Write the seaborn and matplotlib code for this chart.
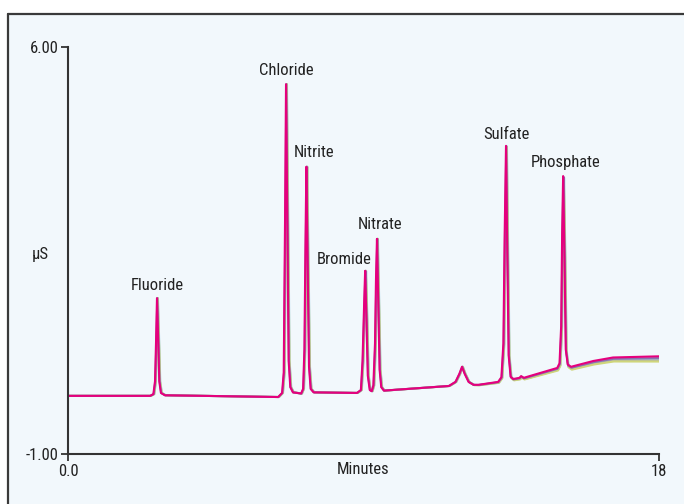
import numpy as np
import pandas as pd
import matplotlib
matplotlib.use("Agg")
import matplotlib.pyplot as plt
from matplotlib import font_manager
from matplotlib.lines import Line2D
from matplotlib.patches import Rectangle
import seaborn as sns

# ---- data ----
time_min = [0.0, 2.50, 2.60, 2.65, 2.68, 2.71, 2.75, 2.78, 2.83, 2.95,
            6.40, 6.52, 6.57, 6.61, 6.64, 6.68, 6.72, 6.77, 6.85,
            7.10, 7.16, 7.20, 7.23, 7.26, 7.30, 7.34, 7.39, 7.48,
            8.80, 8.92, 8.97, 9.02, 9.05, 9.09, 9.13, 9.19,
            9.25, 9.30, 9.35, 9.38, 9.41, 9.45, 9.49, 9.54, 9.62,
            11.60, 11.80, 11.92, 12.00, 12.08, 12.20, 12.35, 12.50,
            13.10, 13.20, 13.26, 13.30, 13.34, 13.38, 13.42, 13.48, 13.56,
            13.75, 13.80, 13.88,
            14.90, 14.97, 15.02, 15.05, 15.08, 15.12, 15.16, 15.22, 15.32,
            16.00, 16.60, 18.00]
signal_uS = [0.00, 0.00, 0.03, 0.25, 0.90, 1.68, 0.90, 0.25, 0.05, 0.01,
             -0.02, 0.05, 0.40, 3.00, 5.36, 3.00, 0.60, 0.15, 0.06,
             0.04, 0.12, 0.80, 2.50, 3.94, 2.20, 0.50, 0.12, 0.06,
             0.05, 0.10, 0.60, 1.60, 2.15, 1.30, 0.35, 0.10,
             0.08, 0.18, 0.90, 2.00, 2.70, 1.60, 0.45, 0.15, 0.09,
             0.17, 0.24, 0.38, 0.50, 0.38, 0.24, 0.19, 0.19,
             0.24, 0.32, 0.90, 2.80, 4.30, 2.40, 0.70, 0.33, 0.29,
             0.31, 0.34, 0.31,
             0.48, 0.56, 1.20, 2.80, 3.78, 2.40, 0.80, 0.54, 0.50,
             0.60, 0.66, 0.68]

# overlaid replicate runs: name, colour, retention shift (min), end-of-run offset (uS)
run_names = ["run 1", "run 2", "run 3", "run 4", "run 5"]
run_colors = ["#9fd0ea", "#b0b0a8", "#cfd67a", "#8a72b0", "#e5007d"]
run_shift = [0.03, 0.02, 0.025, 0.01, 0.0]
run_end_offset = [-0.05, -0.07, -0.09, -0.03, 0.0]

peak_names = ["Fluoride", "Chloride", "Nitrite", "Bromide", "Nitrate", "Sulfate", "Phosphate"]
label_x = [2.71, 6.66, 7.49, 8.41, 9.50, 13.34, 15.17]
label_y = [1.90, 5.60, 4.18, 2.34, 2.94, 4.50, 4.02]

x_ticks = [0.0, 18.0]
x_tick_labels = ["0.0", "18"]
y_ticks = [-1.0, 6.0]
y_tick_labels = ["-1.00", "6.00"]

# ---- build long table ----
rows = []
t_arr = np.array(time_min)
s_arr = np.array(signal_uS)
for name, sh, off in zip(run_names, run_shift, run_end_offset):
    drift = np.clip((t_arr - 12.0) / 6.0, 0, 1) * off
    for t, s, d in zip(t_arr + sh, s_arr, drift):
        rows.append({"run": name, "time": t, "uS": s + d})
df = pd.DataFrame(rows)

# ---- fonts ----
available = {f.name for f in font_manager.fontManager.ttflist}
family = "DejaVu Sans"
for cand in ["Liberation Sans Narrow", "Roboto Condensed", "Open Sans Condensed", "Liberation Sans"]:
    if cand in available:
        family = cand
        break

sns.set_theme(style="white")
plt.rcParams["font.family"] = [family, "DejaVu Sans"]
fs = 12.8 if family == "Liberation Sans Narrow" else 12.0

fig = plt.figure(figsize=(6.84, 5.04), dpi=100)
fig.patch.set_facecolor("white")

# light panel behind the chart with top/left border
panel = Rectangle((8 / 684, 0), 1.0, 1 - 14 / 504, transform=fig.transFigure,
                  facecolor="#f2f8fc", edgecolor="none", zorder=-10)
fig.patches.append(panel)
fig.lines.append(Line2D([8 / 684, 1.0], [1 - 14 / 504, 1 - 14 / 504],
                        transform=fig.transFigure, color="#3a3a3a", lw=1.6, zorder=-5))
fig.lines.append(Line2D([8 / 684, 8 / 684], [0, 1 - 14 / 504],
                        transform=fig.transFigure, color="#3a3a3a", lw=1.6, zorder=-5))

ax = fig.add_axes([68 / 684, 1 - 454 / 504, (659 - 68) / 684, (454 - 47) / 504])
ax.set_facecolor("none")
ax.set_zorder(5)

sns.lineplot(data=df, x="time", y="uS", hue="run", hue_order=run_names,
             palette=dict(zip(run_names, run_colors)), estimator=None, sort=False,
             legend=False, lw=1.5, ax=ax)
for ln in ax.lines:
    ln.set_solid_joinstyle("round")

ax.set_xlim(0, 18)
ax.set_ylim(-1.0, 6.0)
ax.set_xticks(x_ticks)
ax.set_xticklabels(x_tick_labels)
ax.set_yticks(y_ticks)
ax.set_yticklabels(y_tick_labels)
ax.tick_params(axis="both", direction="out", length=5, width=1.3, color="#333333",
               labelsize=fs, labelcolor="#222222", pad=2, bottom=True, left=True)
for side in ["top", "right"]:
    ax.spines[side].set_visible(False)
for side in ["left", "bottom"]:
    ax.spines[side].set_color("#333333")
    ax.spines[side].set_linewidth(1.5)

ax.set_xlabel("")
ax.set_ylabel("")
fig.text(363 / 684, 1 - 470 / 504, "Minutes", ha="center", va="center",
         fontsize=fs, color="#222222")
fig.text(40 / 684, 1 - 255 / 504, "µS", ha="center", va="center",
         fontsize=fs, color="#222222")

for name, lx, ly in zip(peak_names, label_x, label_y):
    ax.text(lx, ly, name, ha="center", va="center", fontsize=fs, color="#222222")

fig.savefig("out.png", dpi=100, facecolor="white")
